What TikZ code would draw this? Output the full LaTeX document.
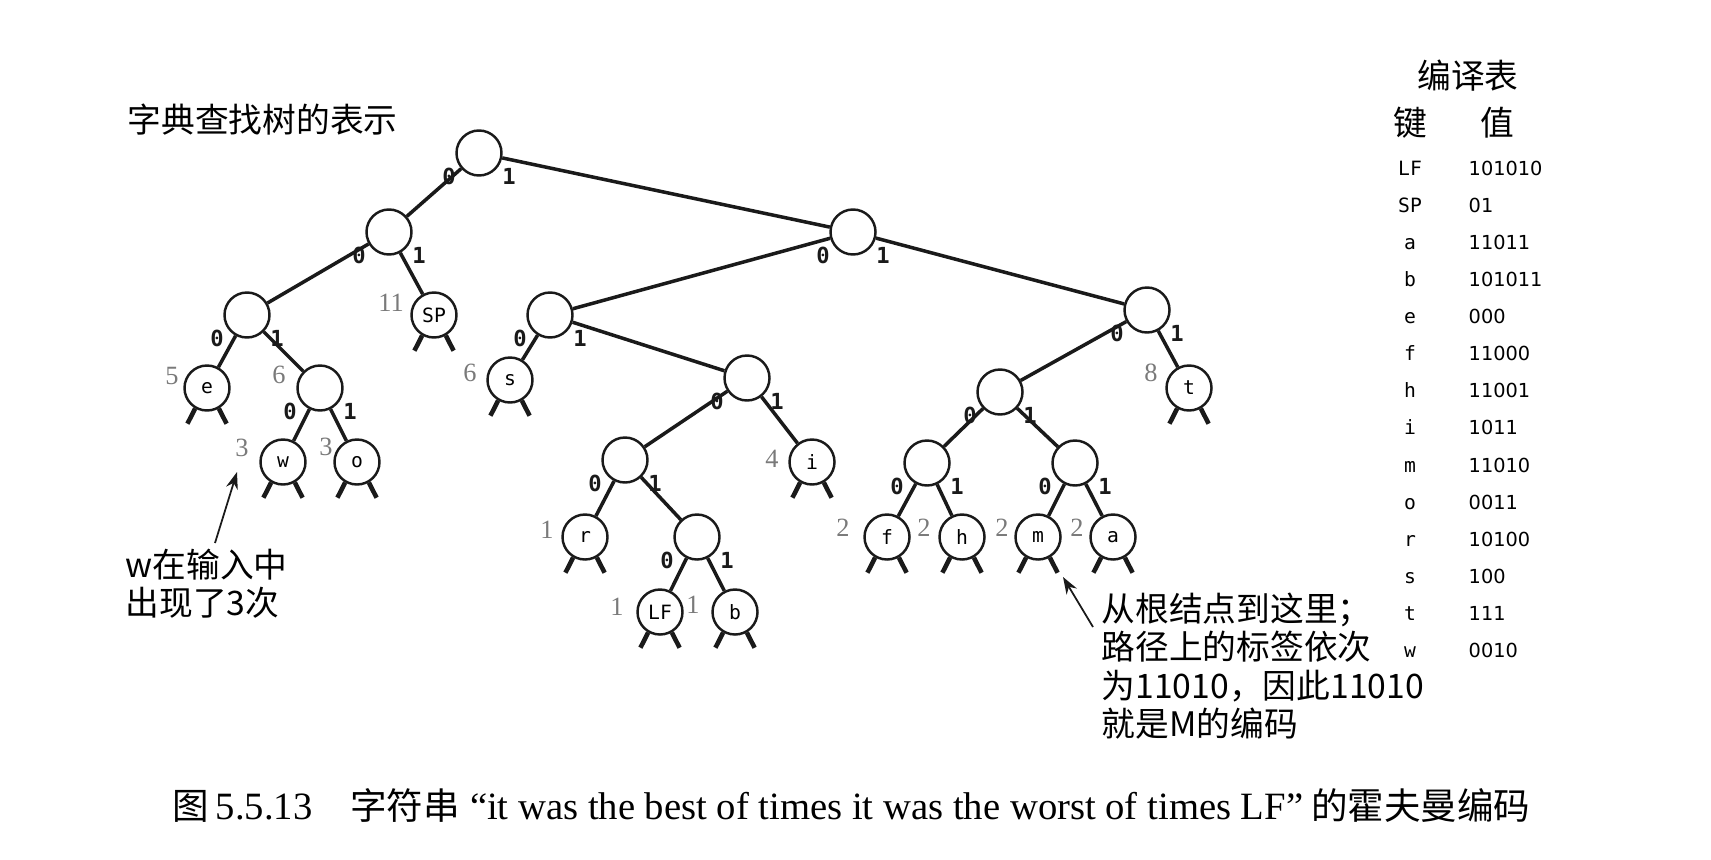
\documentclass[tikz,border=0pt]{standalone}
\usepackage{fontspec}
\setmainfont{Liberation Serif}
\newfontfamily\cjkfont{Noto Sans CJK SC}
\newfontfamily\keyfont{DejaVu Sans Mono}
\newfontfamily\valfont{DejaVu Sans}
\usetikzlibrary{arrows.meta}
\definecolor{trink}{HTML}{1A1A1A}
\definecolor{trgray}{HTML}{7A7A7A}
\newcommand\capcjk{\cjkfont\fontsize{10.4}{12}\selectfont}
\tikzset{
  nd/.style={circle, draw=trink, line width=0.7pt, minimum size=4.5mm, inner sep=0pt, font=\keyfont\fontsize{5.6}{6}\selectfont},
  link/.style={draw=trink, line width=1pt},
  stub/.style={draw=trink, line width=1.3pt},
  bit/.style={font=\keyfont\bfseries\fontsize{6.3}{7}\selectfont, inner sep=0pt, text=trink},
  wt/.style={font=\fontsize{7.5}{8}\selectfont, text=trgray, inner sep=0pt},
  note/.style={font=\cjkfont\fontsize{9.6}{10.8}\selectfont, align=left, inner sep=0pt},
  keyc/.style={font=\keyfont\fontsize{5.6}{6}\selectfont, inner sep=0pt, text height=4pt, text depth=1pt},
  valc/.style={font=\valfont\fontsize{5.5}{6}\selectfont, anchor=west, inner sep=0pt, text height=4pt, text depth=1pt},
  arr/.style={-{Stealth[length=1.7mm,width=1.2mm]}, line width=0.5pt, color=trink},
}

\begin{document}
\begin{tikzpicture}[x=0.1mm,y=0.1mm]
  \useasboundingbox (0,0) rectangle (1711,-859);
  % tree nodes, named by their code
  \node[nd] (root) at (479,-153) {};
  \node[nd] (n0) at (389,-232) {};
  \node[nd] (n1) at (853,-232) {};
  \node[nd] (n00) at (247,-315) {};
  \node[nd] (SP) at (434,-315) {SP};
  \node[nd] (n10) at (550,-315) {};
  \node[nd] (n11) at (1147,-310) {};
  \node[nd] (e) at (207,-388) {e};
  \node[nd] (n001) at (320,-388) {};
  \node[nd] (s) at (510,-380) {s};
  \node[nd] (n101) at (747,-378) {};
  \node[nd] (n110) at (1000,-392) {};
  \node[nd] (t) at (1189,-388) {t};
  \node[nd] (w) at (283,-462) {w};
  \node[nd] (o) at (357,-462) {o};
  \node[nd] (n1010) at (625,-460) {};
  \node[nd] (i) at (812,-462) {i};
  \node[nd] (n1100) at (927,-463) {};
  \node[nd] (n1101) at (1075,-463) {};
  \node[nd] (r) at (585,-537) {r};
  \node[nd] (n10101) at (697,-537) {};
  \node[nd] (f) at (887,-537) {f};
  \node[nd] (h) at (962,-537) {h};
  \node[nd] (m) at (1038,-537) {m};
  \node[nd] (a) at (1113,-537) {a};
  \node[nd] (LF) at (660,-612) {LF};
  \node[nd] (b) at (735,-612) {b};
  % links
  \foreach \p/\c in {root/n0, root/n1, n0/n00, n0/SP, n00/e, n00/n001, n001/w, n001/o,
      n1/n10, n1/n11, n10/s, n10/n101, n101/n1010, n101/i, n1010/r, n1010/n10101,
      n10101/LF, n10101/b, n11/n110, n11/t, n110/n1100, n110/n1101, n1100/f, n1100/h,
      n1101/m, n1101/a}
    \draw[link] (\p) -- (\c);
  \foreach \p in {root,n0,n00,n001,n1,n10,n101,n1010,n10101,n11,n110,n1100,n1101} {
    \node[bit] (b0-\p) at ([shift={(-30,-23)}]\p) {0};
    \node[bit] (b1-\p) at ([shift={(30,-23)}]\p) {1};
  }
  % null links under the leaves
  \foreach \leaf in {e,w,o,SP,s,r,LF,b,i,f,h,m,a,t} {
    \draw[stub] (\leaf.-120) -- ++(-117:17);
    \draw[stub] (\leaf.-60) -- ++(-63:17);
  }
  % frequencies
  \foreach \leaf/\cnt/\dx/\dy in {e/5/-35/12, n001/6/-41/13, SP/11/-43/12, s/6/-40/7,
      w/3/-41/14, o/3/-31/15, i/4/-40/3, r/1/-38/7, LF/1/-43/5, b/1/-42/7,
      f/2/-44/9, h/2/-38/9, m/2/-36/9, a/2/-36/9, t/8/-38/15}
    \node[wt] (wt-\leaf) at ([shift={(\dx,\dy)}]\leaf) {\cnt};
  % notes
  \node[note, anchor=west] (title) at (127,-120) {字典查找树的表示};
  \node[note, anchor=west] (wnote) at (125,-584) {w在输入中\\出现了3次};
  \node[note, anchor=west, font=\cjkfont\fontsize{9.6}{10.9}\selectfont] (mnote) at (1101,-666)
    {从根结点到这里；\\路径上的标签依次\\为11010，因此11010\\就是M的编码};
  \coordinate (wtail) at (215,-543);
  \coordinate (wtip) at (237,-472);
  \coordinate (mtail) at (1093,-627);
  \coordinate (mtip) at (1063,-577);
  \draw[arr] (wtail) -- (wtip);
  \draw[arr] (mtail) -- (mtip);
  % symbol table
  \node[note] (tabtitle) at (1468,-76) {编译表};
  \node[note] (keyhd) at (1410,-123) {键};
  \node[note] (valhd) at (1497,-123) {值};
  \foreach \kname/\kcode [count=\i from 0] in {LF/101010, SP/01, a/11011, b/101011, e/000,
      f/11000, h/11001, i/1011, m/11010, o/0011, r/10100, s/100, t/111, w/0010} {
    \node[keyc] (k-\kname) at (1410,{-170-37.1*\i}) {\kname};
    \node[valc] (v-\kname) at (1468,{-170-37.1*\i}) {\kcode};
  }
  % caption
  \node[anchor=west, inner sep=0pt, font=\fontsize{11}{12}\selectfont] (cap) at (172,-805)
    {{\capcjk 图}\,5.5.13\hspace{3.8mm}{\capcjk 字符串}\hspace{1mm}“it was the best of times it was the worst of times LF”\hspace{0.8mm}{\capcjk 的霍夫曼编码}};
\end{tikzpicture}
\end{document}
